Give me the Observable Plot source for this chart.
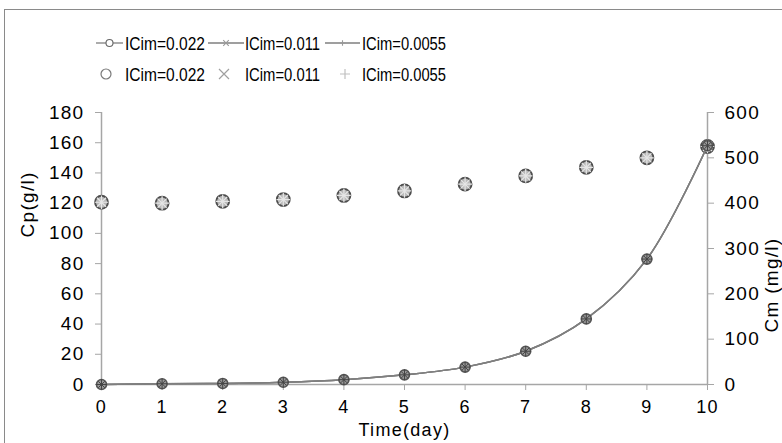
<!DOCTYPE html>
<html>
<head>
<meta charset="utf-8">
<script src="https://cdn.jsdelivr.net/npm/d3@7"></script>
<script src="https://cdn.jsdelivr.net/npm/@observablehq/plot@0.6"></script>
<style>
  html, body { margin: 0; padding: 0; background: #fff; }
  body { width: 782px; height: 443px; overflow: hidden; position: relative; font-family: "Liberation Sans", Arial, sans-serif; }
  #frame { position: absolute; left: 4px; top: 9px; width: 900px; height: 600px; border: 1.5px solid #8a8a8a; box-sizing: border-box; }
  #chart { position: absolute; left: 0; top: 0; }
  #legend { position: absolute; left: 0; top: 0; font-family: "Liberation Sans", Arial, sans-serif; }
</style>
</head>
<body>
<div id="frame"></div>
<div id="chart"></div>
<svg id="legend" width="782" height="100"></svg>
<script>
// ---- data ----
const days = [0, 1, 2, 3, 4, 5, 6, 7, 8, 9, 10];
const seriesNames = ["ICim=0.022", "ICim=0.011", "ICim=0.0055"];
const cp022  = [0, 0.5, 0.7, 1.5, 3.2, 6.4, 11.5, 22, 43.4, 83, 158];
const cp011  = [0, 0.5, 0.7, 1.5, 3.2, 6.4, 11.5, 22, 43.4, 83, 158];
const cp0055 = [0, 0.5, 0.7, 1.5, 3.2, 6.4, 11.5, 22, 43.4, 83, 158];
const cm022  = [402, 400, 404, 408, 417, 427, 442, 460, 479, 500, 525];
const cm011  = [402, 400, 404, 408, 417, 427, 442, 460, 479, 500, 525];
const cm0055 = [402, 400, 404, 408, 417, 427, 442, 460, 479, 500, 525];
const xTicks = [0, 1, 2, 3, 4, 5, 6, 7, 8, 9, 10];
const cpTicks = [0, 20, 40, 60, 80, 100, 120, 140, 160, 180];
const cmTicks = [0, 100, 200, 300, 400, 500, 600];
const xLabel = "Time(day)";
const cpLabel = "Cp(g/l)";
const cmLabel = "Cm (mg/l)";

const cpAll = [cp022, cp011, cp0055];
const cmAll = [cm022, cm011, cm0055];
const k = 180 / 600; // right axis -> left axis units

const rows = seriesNames.flatMap((s, i) =>
  days.map((d, j) => ({series: s, idx: i, day: d, cp: cpAll[i][j], cm: cmAll[i][j]})));
const bySeries = i => rows.filter(r => r.idx === i);

const axisGray = "#a6a6a6";
const fs = 19;

const chart = Plot.plot({
  width: 782,
  height: 443,
  marginLeft: 101,
  marginRight: 75,
  marginTop: 112,
  marginBottom: 59,
  style: {fontFamily: "'Liberation Sans', Arial, sans-serif", fontSize: fs + "px", letterSpacing: "1.3px", background: "transparent", overflow: "visible"},
  x: {domain: [0, 10]},
  y: {domain: [0, 180]},
  marks: [
    Plot.ruleY([0], {stroke: axisGray, strokeWidth: 1.5}),
    Plot.ruleX([0], {stroke: axisGray, strokeWidth: 1.5}),
    Plot.ruleX([10], {stroke: axisGray, strokeWidth: 1.5}),
    Plot.axisX(xTicks, {anchor: "bottom", tickSize: 6, tickPadding: 10, stroke: axisGray, fill: "#000", label: null, fontSize: 18}),
    Plot.axisY(cpTicks, {anchor: "left", tickSize: 6, tickPadding: 11, stroke: axisGray, fill: "#000", label: null, fontSize: fs}),
    Plot.axisY(cmTicks.map(v => v * k), {anchor: "right", tickSize: 6, tickPadding: 11, stroke: axisGray, fill: "#000", label: null, fontSize: fs, tickFormat: v => String(Math.round(v / k))}),
    Plot.text([xLabel], {frameAnchor: "bottom", dy: 51, fontSize: 18, fill: "#000"}),
    Plot.text([cpLabel], {frameAnchor: "left", dx: -74, dy: -11, rotate: -90, fontSize: fs, fill: "#000"}),
    Plot.text([cmLabel], {frameAnchor: "right", dx: 64, dy: -11, rotate: -90, fontSize: fs, fill: "#000"}),
    // Cm scatter (right axis)
    Plot.dot(bySeries(0), {x: "day", y: d => d.cm * k, r: 6.5, symbol: "circle", fill: "#b8b8b8", stroke: "#4d4d4d", strokeWidth: 1.8}),
    Plot.dot(bySeries(1), {x: "day", y: d => d.cm * k, r: 4.2, symbol: "times", stroke: "#e6e6e6", strokeWidth: 1.2}),
    Plot.dot(bySeries(2), {x: "day", y: d => d.cm * k, r: 4.5, symbol: "plus", stroke: "#e6e6e6", strokeWidth: 1.2}),
    // Cp lines (left axis)
    Plot.line(rows, {x: "day", y: "cp", z: "series", stroke: "#7f7f7f", strokeWidth: 1.5, curve: "catmull-rom"}),
    Plot.dot(bySeries(0), {x: "day", y: "cp", r: 5, symbol: "circle", fill: "#9a9a9a", stroke: "#555", strokeWidth: 1.6}),
    Plot.dot(bySeries(1), {x: "day", y: "cp", r: 3, symbol: "times", stroke: "#444", strokeWidth: 1}),
    Plot.dot(bySeries(2), {x: "day", y: "cp", r: 3.5, symbol: "plus", stroke: "#444", strokeWidth: 1})
  ]
});
document.getElementById("chart").appendChild(chart);

// ---- legend ----
const lg = d3.select("#legend");
const row1Y = 43, row2Y = 74;
const lineItems = [
  {x0: 96, x1: 123, tx: 125, tw: 80, sym: "circle"},
  {x0: 208, x1: 244, tx: 245, tw: 75, sym: "times"},
  {x0: 325, x1: 360, tx: 362, tw: 84, sym: "plus"}
];
const dotItems = [
  {cx: 106, tx: 125, tw: 80, sym: "circle", color: "#7a7a7a"},
  {cx: 224, tx: 245, tw: 75, sym: "times", color: "#a0a0a0"},
  {cx: 345, tx: 362, tw: 84, sym: "plus", color: "#c0c0c0"}
];
function drawSym(g, sym, cx, cy, s, color, sw) {
  if (sym === "circle") g.append("circle").attr("cx", cx).attr("cy", cy).attr("r", s).attr("fill", "#fff").attr("stroke", color).attr("stroke-width", sw);
  else if (sym === "times") g.append("path").attr("d", `M${cx-s},${cy-s}L${cx+s},${cy+s}M${cx-s},${cy+s}L${cx+s},${cy-s}`).attr("stroke", color).attr("stroke-width", sw);
  else g.append("path").attr("d", `M${cx-s},${cy}L${cx+s},${cy}M${cx},${cy-s}L${cx},${cy+s}`).attr("stroke", color).attr("stroke-width", sw);
}
function drawText(x, y, w, name) {
  lg.append("text").attr("x", x).attr("y", y).attr("dy", "0.36em")
    .attr("font-size", 19).attr("fill", "#000")
    .attr("textLength", w).attr("lengthAdjust", "spacingAndGlyphs").text(name);
}
seriesNames.forEach((name, i) => {
  const it = lineItems[i];
  lg.append("line").attr("x1", it.x0).attr("x2", it.x1).attr("y1", row1Y).attr("y2", row1Y).attr("stroke", "#7f7f7f").attr("stroke-width", 1.3);
  drawSym(lg, it.sym, (it.x0 + it.x1) / 2, row1Y, i === 0 ? 3.5 : 2.8, i === 0 ? "#666" : "#999", 1.1);
  drawText(it.tx, row1Y, it.tw, name);
  const dt = dotItems[i];
  drawSym(lg, dt.sym, dt.cx, row2Y, 5, dt.color, 1.2);
  drawText(dt.tx, row2Y, dt.tw, name);
});
</script>
</body>
</html>
